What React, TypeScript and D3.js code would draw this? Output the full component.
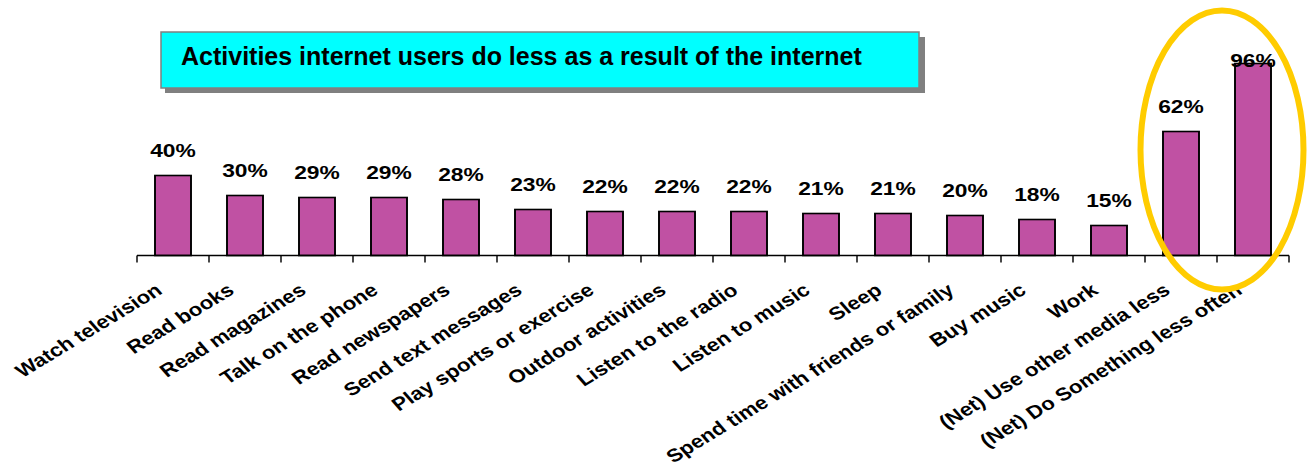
import * as React from 'react';
import * as d3 from 'd3';

const categories = [
  'Watch television', 'Read books', 'Read magazines', 'Talk on the phone',
  'Read newspapers', 'Send text messages', 'Play sports or exercise',
  'Outdoor activities', 'Listen to the radio', 'Listen to music', 'Sleep',
  'Spend time with friends or family', 'Buy music', 'Work',
  '(Net) Use other media less', '(Net) Do Something less often'
];
const values = [40, 30, 29, 29, 28, 23, 22, 22, 22, 21, 21, 20, 18, 15, 62, 96];
const highlighted = ['(Net) Use other media less', '(Net) Do Something less often'];
const title = 'Activities internet users do less as a result of the internet';

const W = 1312, H = 468;
const FONT = '"Liberation Sans", Arial, Helvetica, sans-serif';
// the chart picture is stretched sideways a bit in the original
const SX = 1.2;
const X0 = 137, X1 = 1289;
const BASE = 255.5;

const App = () => {
  const x = d3.scaleBand<string>()
    .domain(categories)
    .range([0, (X1 - X0) / SX])
    .paddingInner(0.5)
    .paddingOuter(0.25);
  const y = d3.scaleLinear().domain([0, 100]).range([BASE, 55.5]);
  const step = x.step();

  // ellipse round the net bars, in page coords
  const h0 = X0 + (x(highlighted[0]) as number) * SX;
  const h1 = X0 + ((x(highlighted[1]) as number) + x.bandwidth()) * SX;
  const ecx = (h0 + h1) / 2 + 5;
  const ecy = 150;

  return (
    <svg width={W} height={H} style={{ position: 'absolute', left: 0, top: 0, background: '#fff' }}
      fontFamily={FONT}>
      {/* title box */}
      <rect x={165} y={37} width={760} height={56} fill="#808080" />
      <rect x={161} y={32} width={758} height={56} fill="#00FFFF" stroke="#808080" strokeWidth={1.5} />
      <text x={181} y={65} fontSize={25} fontWeight="bold" fill="#000">{title}</text>

      <g transform={`translate(${X0},0) scale(${SX},1)`}>
        {categories.map((c, i) => (
          <rect key={c} x={x(c)} y={y(values[i])} width={x.bandwidth()}
            height={BASE - y(values[i])} fill="#C051A3" stroke="#000" strokeWidth={1.6} />
        ))}
        <line x1={0} x2={(X1 - X0) / SX} y1={BASE} y2={BASE} stroke="#000" strokeWidth={1.5} />
        {d3.range(categories.length + 1).map(i => (
          <line key={i} x1={i * step} x2={i * step} y1={BASE} y2={BASE + 7} stroke="#000" strokeWidth={1.2} />
        ))}
        {categories.map((c, i) => (
          <text key={c} x={(x(c) as number) + x.bandwidth() / 2} y={Math.max(y(values[i]) - 18, 67)}
            textAnchor="middle" fontSize={19} fontWeight="bold" fill="#000">
            {values[i]}%
          </text>
        ))}
        {categories.map(c => {
          const ax = (x(c) as number) + x.bandwidth() / 2 - 19 / SX;
          return (
            <text key={c} transform={`translate(${ax},282) rotate(-36)`} textAnchor="end"
              dy="0.72em" fontSize={18.5} fontWeight="bold" fill="#000">{c}</text>
          );
        })}
      </g>

      <ellipse cx={ecx} cy={ecy} rx={81.5} ry={139.5} fill="none" stroke="#FFCC00" strokeWidth={6} />
    </svg>
  );
};

export default App;
